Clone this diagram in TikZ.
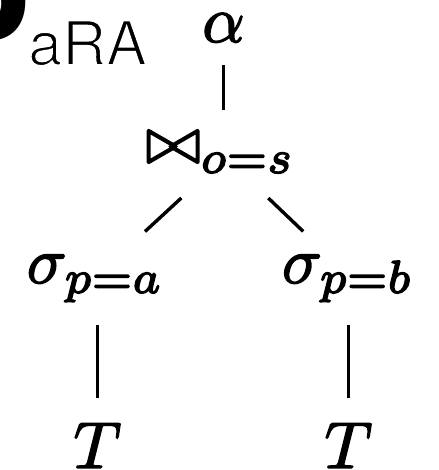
\documentclass[tikz,border=0pt]{standalone}
\usepackage{fontspec}
\newfontfamily\heros{TeX Gyre Heros}
\newcommand\heavytext[1]{\special{pdf:literal direct 2 Tr 0.22 w}#1\special{pdf:literal direct 0 Tr}}
\newcommand\lighttext[1]{\special{pdf:literal direct 1 1 1 RG 2 Tr 1.7 w}#1\special{pdf:literal direct 0 Tr 0 0 0 RG}}
\begin{document}
\begin{tikzpicture}[x=1pt,y=-1pt,
  m/.style={inner sep=0pt, outer sep=0pt, font=\fontsize{10}{12}\selectfont, scale=6.6},
  edge/.style={line width=3.4pt, black}]
\useasboundingbox (0,0) rectangle (438,470);
\clip (0,0) rectangle (438,470);
\node[anchor=base east, inner sep=0pt, font=\heros\bfseries\fontsize{160}{160}\selectfont] (P) at (31,83) {P};
\node[anchor=base west, inner sep=0pt, font=\heros\fontsize{61}{61}\selectfont] (sub) at (28,65) {\lighttext{aRA}};
\node[m, anchor=base] (a) at (223.5,42) {\heavytext{$\alpha$}};
\node[m, anchor=base] (j) at (220.5,163) {\heavytext{$\bowtie_{o=s}$}};
\node[m, anchor=base] (s1) at (95.5,283) {\heavytext{$\sigma_{p=a}$}};
\node[m, anchor=base] (s2) at (348,283) {\heavytext{$\sigma_{p=b}$}};
\node[m, anchor=base] (t1) at (97.5,468) {\heavytext{$T$}};
\node[m, anchor=base] (t2) at (348.5,468) {\heavytext{$T$}};
\draw[edge, shorten <=23pt, shorten >=22pt] (a.south) -- (a.south |- j.north);
\draw[edge, shorten <=37pt, shorten >=34pt] ([xshift=-12pt]j.south) -- ([xshift=24.5pt]s1.north);
\draw[edge, shorten <=36.4pt, shorten >=33.5pt] ([xshift=21.5pt]j.south) -- ([xshift=-20.6pt]s2.north);
\draw[edge, shorten <=23pt, shorten >=25pt] (t1 |- s1.south) -- (t1.north);
\draw[edge, shorten <=23pt, shorten >=25pt] (t2 |- s2.south) -- (t2.north);
\end{tikzpicture}
\end{document}
